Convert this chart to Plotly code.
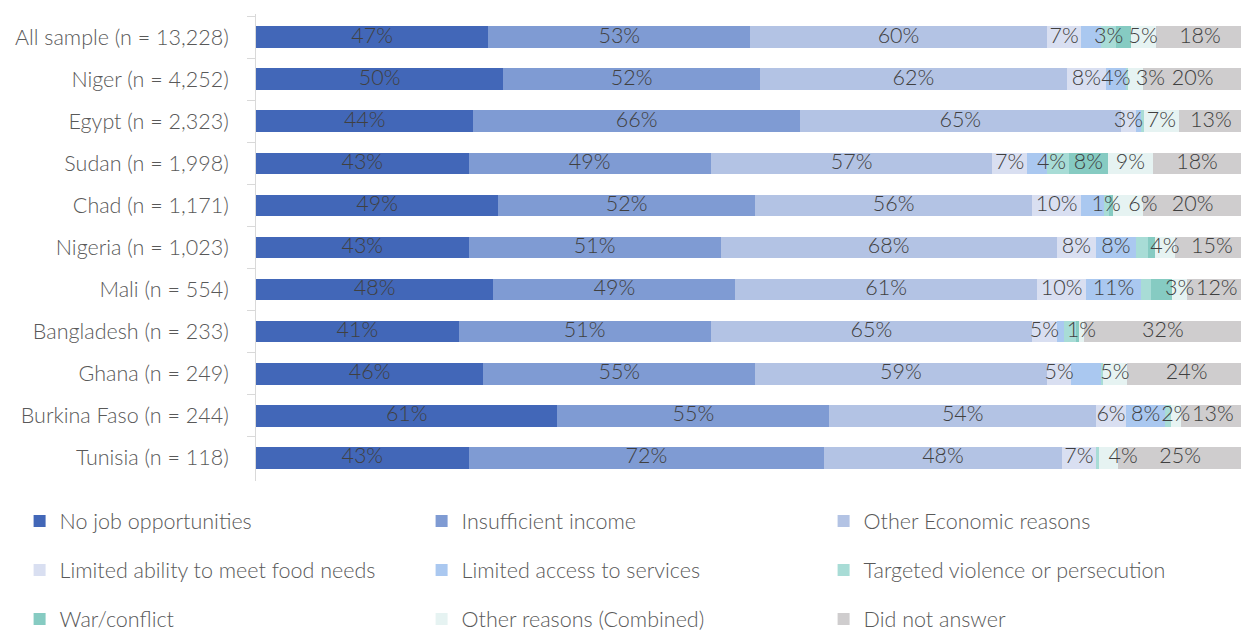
import plotly.graph_objects as go

# Survey respondents by country, reasons for leaving (share of respondents, %)
categories = [
    "All sample (n = 13,228)", "Niger (n = 4,252)", "Egypt (n = 2,323)",
    "Sudan (n = 1,998)", "Chad (n = 1,171)", "Nigeria (n = 1,023)",
    "Mali (n = 554)", "Bangladesh (n = 233)", "Ghana (n = 249)",
    "Burkina Faso (n = 244)", "Tunisia (n = 118)",
]

no_job = [47, 50, 44, 43, 49, 43, 48, 41, 46, 61, 43]
insufficient_income = [53, 52, 66, 49, 52, 51, 49, 51, 55, 55, 72]
other_economic = [60, 62, 65, 57, 56, 68, 61, 65, 59, 54, 48]
food_needs = [7, 8, 3, 7, 10, 8, 10, 5, 5, 6, 7]
services = [4, 4, 1, 4, 4.5, 8, 11, 1.5, 6, 8, 0]
targeted_violence = [3, 0.5, 0.7, 4.4, 1, 2.4, 2, 2.5, 0.3, 1.1, 0.5]
war_conflict = [3, 0, 0, 8, 1, 1.5, 4.4, 0.5, 0, 0, 0]
other_reasons = [5, 3, 7, 9, 6, 4, 3, 1, 5, 2, 4]
no_answer = [18, 20, 13, 18, 20, 15, 12, 32, 24, 13, 25]

# Which segments carry a value label
all_labelled = [True] * 11
services_labelled = [False, True, False, True, False, True, True, False, False, True, False]
targeted_labelled = [True, False, False, False, True, False, False, False, False, False, False]
war_labelled = [False, False, False, True, False, False, False, False, False, False, False]

series = [
    ("No job opportunities", no_job, all_labelled, "#4267B8", "legend"),
    ("Insufficient income", insufficient_income, all_labelled, "#7F9BD3", "legend"),
    ("Other Economic reasons", other_economic, all_labelled, "#B3C3E4", "legend"),
    ("Limited ability to meet food needs", food_needs, all_labelled, "#D9DFF1", "legend2"),
    ("Limited access to services", services, services_labelled, "#AAC8F0", "legend2"),
    ("Targeted violence or persecution", targeted_violence, targeted_labelled, "#A8DCD6", "legend2"),
    ("War/conflict", war_conflict, war_labelled, "#86CBC2", "legend3"),
    ("Other reasons (Combined)", other_reasons, all_labelled, "#E6F3F2", "legend3"),
    ("Did not answer", no_answer, all_labelled, "#CFCDCE", "legend3"),
]

# Labels on narrow neighbouring segments are set to the right of the midpoint
# so they don't run into the label before them.
shifted_labels = {
    ("Other reasons (Combined)", "Niger (n = 4,252)"),
    ("Other reasons (Combined)", "Chad (n = 1,171)"),
    ("Other reasons (Combined)", "Tunisia (n = 118)"),
    ("Limited access to services", "Sudan (n = 1,998)"),
}

FONT = "Lato, 'Open Sans', sans-serif"
TEXT_SIZE = 21.5

fig = go.Figure()

# Stacked segments
for name, values, labelled, color, legend_id in series:
    fig.add_trace(go.Bar(
        name=name,
        y=categories,
        x=values,
        orientation="h",
        marker=dict(color=color, line=dict(width=0)),
        legend=legend_id,
        hoverinfo="skip",
    ))

# Value labels, drawn above every segment at each segment's midpoint
label_x, label_y, label_text, label_pos = [], [], [], []
running = [0.0] * len(categories)
for name, values, labelled, color, legend_id in series:
    for i, (v, show) in enumerate(zip(values, labelled)):
        if show and v > 0:
            label_x.append(running[i] + v / 2)
            label_y.append(categories[i])
            label_text.append(f"{v:.0f}%")
            label_pos.append("middle right" if (name, categories[i]) in shifted_labels
                             else "middle center")
        running[i] += v

fig.add_trace(go.Scatter(
    x=label_x, y=label_y, text=label_text,
    mode="text",
    textposition=label_pos,
    textfont=dict(family=FONT, size=TEXT_SIZE, color="#404040", weight=300),
    showlegend=False,
    hoverinfo="skip",
    cliponaxis=True,
))

legend_common = dict(
    orientation="h",
    xref="paper", yref="paper",
    x=-0.240, xanchor="left", yanchor="middle",
    entrywidth=357, entrywidthmode="pixels",
    font=dict(family=FONT, size=TEXT_SIZE, color="#595959", weight=300),
    bgcolor="rgba(0,0,0,0)", borderwidth=0,
    traceorder="normal", itemclick=False, itemdoubleclick=False,
)

fig.update_layout(
    width=1241, height=631,
    margin=dict(l=256, r=0, t=14, b=150, autoexpand=False),
    barmode="stack",
    bargap=0.48,
    plot_bgcolor="white", paper_bgcolor="white",
    font=dict(family=FONT, size=TEXT_SIZE, color="#595959"),
    showlegend=True,
    legend=dict(legend_common, y=-0.0857),
    legend2=dict(legend_common, y=-0.1906),
    legend3=dict(legend_common, y=-0.2955),
    xaxis=dict(range=[0, 199.3], visible=False, showgrid=False, zeroline=False),
    yaxis=dict(
        autorange="reversed",
        showline=True, linecolor="#D9D9D9", linewidth=1,
        ticks="outside", tickson="boundaries", ticklen=8, tickcolor="#D9D9D9",
        ticklabelstandoff=22,
        tickfont=dict(family=FONT, size=TEXT_SIZE, color="#595959", weight=300),
        showgrid=False, zeroline=False,
    ),
)

fig.write_html("out.html")
